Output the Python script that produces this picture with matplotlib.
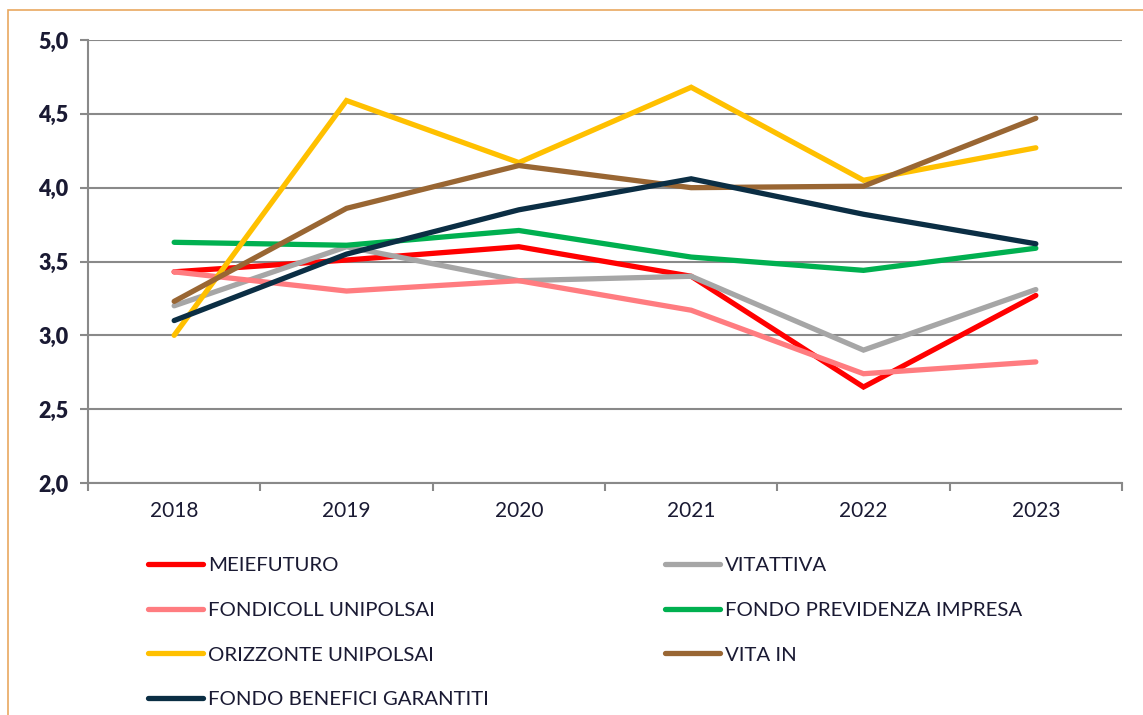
import matplotlib
matplotlib.use("Agg")
import matplotlib.pyplot as plt
from matplotlib.patches import Rectangle
from matplotlib.ticker import FixedLocator, NullFormatter

# ─────────────────────────────────────────────────────────────
# Data
# ─────────────────────────────────────────────────────────────
years = ["2018", "2019", "2020", "2021", "2022", "2023"]

meiefuturo = [3.43, 3.51, 3.60, 3.40, 2.65, 3.27]
vitattiva = [3.20, 3.60, 3.37, 3.40, 2.90, 3.31]
fondicoll = [3.43, 3.30, 3.37, 3.17, 2.74, 2.82]
fondo_previdenza = [3.63, 3.61, 3.71, 3.53, 3.44, 3.59]
orizzonte = [3.00, 4.59, 4.17, 4.68, 4.05, 4.27]
vita_in = [3.23, 3.86, 4.15, 4.00, 4.01, 4.47]
fondo_benefici = [3.10, 3.55, 3.85, 4.06, 3.82, 3.62]

y_ticks = [2.0, 2.5, 3.0, 3.5, 4.0, 4.5, 5.0]

series = [
    ("MEIEFUTURO", meiefuturo, "#FF0000"),
    ("VITATTIVA", vitattiva, "#A6A6A6"),
    ("FONDICOLL UNIPOLSAI", fondicoll, "#FF7C80"),
    ("FONDO PREVIDENZA IMPRESA", fondo_previdenza, "#00B050"),
    ("ORIZZONTE UNIPOLSAI", orizzonte, "#FFC000"),
    ("VITA IN", vita_in, "#996633"),
    ("FONDO BENEFICI GARANTITI", fondo_benefici, "#0B2E44"),
]

text_color = "#1A1A33"
grid_color = "#898989"
plt.rcParams["font.family"] = ["Lato", "DejaVu Sans"]

# ─────────────────────────────────────────────────────────────
# Figure and axes
# ─────────────────────────────────────────────────────────────
fig = plt.figure(figsize=(11.43, 7.15), dpi=100)
W, H = 1143, 715
ax = fig.add_axes([88 / W, 1 - 483 / H, (1122 - 88) / W, (483 - 40) / H])

# orange frame (top and left edges visible)
fig.patches.append(Rectangle((8 / W, -0.1), 1.2, 1 - 10 / H + 0.1,
                             transform=fig.transFigure, fill=False,
                             edgecolor="#E9A860", linewidth=1.2))

x = list(range(len(years)))
handles = {}
for label, vals, color in series:
    (ln,) = ax.plot(x, vals, color=color, linewidth=3.8, label=label,
                    solid_capstyle="round", solid_joinstyle="miter")
    handles[label] = ln

ax.set_xlim(-0.5, len(years) - 0.5)
ax.set_ylim(2.0, 5.0)
ax.set_yticks(y_ticks)
ax.set_yticklabels([f"{v:.1f}".replace(".", ",") for v in y_ticks],
                   fontsize=15.5, fontweight="heavy", color=text_color)
ax.yaxis.grid(True, color=grid_color, linewidth=1.5)
ax.set_axisbelow(True)

# category labels at centres, tick marks at boundaries
ax.xaxis.set_major_locator(FixedLocator([i - 0.5 for i in range(len(years) + 1)]))
ax.xaxis.set_major_formatter(NullFormatter())
ax.xaxis.set_minor_locator(FixedLocator(x))
ax.set_xticklabels(years, minor=True, fontsize=15, color=text_color)
ax.tick_params(axis="x", which="minor", length=0, pad=13)
ax.tick_params(axis="x", which="major", length=6, width=1.5, color=grid_color)
ax.tick_params(axis="y", length=6, width=1.5, color=grid_color, pad=8)

for side in ["top", "right"]:
    ax.spines[side].set_visible(False)
for side in ["left", "bottom"]:
    ax.spines[side].set_color(grid_color)
    ax.spines[side].set_linewidth(1.5)

# ─────────────────────────────────────────────────────────────
# Legend (row-major order in two columns)
# ─────────────────────────────────────────────────────────────
order = ["MEIEFUTURO", "FONDICOLL UNIPOLSAI", "ORIZZONTE UNIPOLSAI",
         "FONDO BENEFICI GARANTITI", "VITATTIVA", "FONDO PREVIDENZA IMPRESA",
         "VITA IN"]
leg = fig.legend([handles[k] for k in order], order, ncol=2,
                 loc="upper left", bbox_to_anchor=(148 / W, 1 - 557 / H),
                 frameon=False, fontsize=14.7, handlelength=2.7,
                 handletextpad=0.25, labelspacing=1.34, columnspacing=8.6,
                 borderaxespad=0, borderpad=0)
for t in leg.get_texts():
    t.set_color(text_color)

plt.savefig("out.png", dpi=100)
